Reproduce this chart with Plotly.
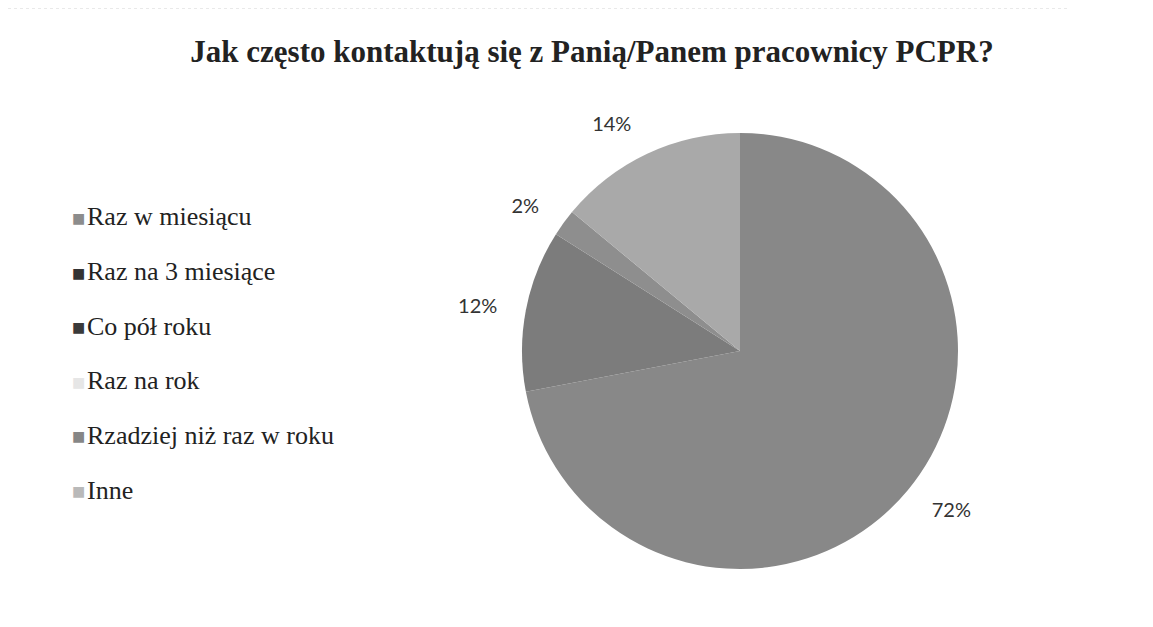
import plotly.graph_objects as go

title = "Jak często kontaktują się z Panią/Panem pracownicy PCPR?"
categories = ["Raz w miesiącu", "Raz na 3 miesiące", "Co pół roku",
              "Raz na rok", "Rzadziej niż raz w roku", "Inne"]
values = [72, 12, 2, 14, 0, 0]
slice_colors = ["#888888", "#7c7c7c", "#8e8e8e", "#a9a9a9", "#8a8a8a", "#b5b5b5"]
legend_colors = ["#8c8c8c", "#333333", "#3a3a3a", "#e6e6e6", "#868686", "#b9b9b9"]

W, H = 1153, 627
OFF = 8  # default page body margin
cx, cy, r = 740 - OFF, 351 - OFF, 218
r_lab = 241

def dom(rad):
    return dict(x=[(cx - rad) / W, (cx + rad) / W], y=[(H - cy - rad) / H, (H - cy + rad) / H])

fig = go.Figure()
# visible pie
fig.add_trace(go.Pie(
    labels=categories, values=values, sort=False, direction="clockwise",
    rotation=0, marker=dict(colors=slice_colors, line=dict(width=0)),
    textinfo="none", showlegend=False, hoverinfo="label+percent",
    domain=dom(r),
))
# transparent pie used only to place the percentage labels a bit further out
fig.add_trace(go.Pie(
    labels=categories, values=values, sort=False, direction="clockwise",
    rotation=0, marker=dict(colors=["rgba(0,0,0,0)"] * len(values), line=dict(width=0)),
    texttemplate=["%{percent:.0%}" if v > 0 else "" for v in values],
    textposition="outside",
    textfont=dict(family="Lato, Open Sans, sans-serif", size=20, color="#333333"),
    showlegend=False, hoverinfo="skip",
    domain=dom(r_lab),
))

legend_y0, legend_dy = 209, 54.6
for i, (cat, col) in enumerate(zip(categories, legend_colors)):
    y = legend_y0 + i * legend_dy
    fig.add_annotation(x=62 / W, y=1 - (y + 1) / H, xref="paper", yref="paper",
                       xanchor="left", yanchor="middle", showarrow=False,
                       text=f"<span style='color:{col}'>■</span>",
                       font=dict(family="DejaVu Sans", size=14))
    fig.add_annotation(x=77 / W, y=1 - y / H, xref="paper", yref="paper",
                       xanchor="left", yanchor="middle", showarrow=False,
                       text=cat,
                       font=dict(family="Liberation Serif, serif", size=26, color="#222222"))

fig.add_shape(type="line", xref="paper", yref="paper", x0=0, x1=1060 / W,
              y0=1, y1=1, line=dict(color="#d4d4d4", width=1, dash="dot"))

fig.update_layout(
    width=W, height=H,
    margin=dict(l=0, r=0, t=0, b=0),
    paper_bgcolor="white", plot_bgcolor="white",
    title=dict(text=f"<b>{title}</b>", x=(592 - OFF) / W, xanchor="center", y=1 - 43 / H, yanchor="middle",
               font=dict(family="Liberation Serif, serif", size=31, color="#222222")),
)

fig.write_html("out.html")
